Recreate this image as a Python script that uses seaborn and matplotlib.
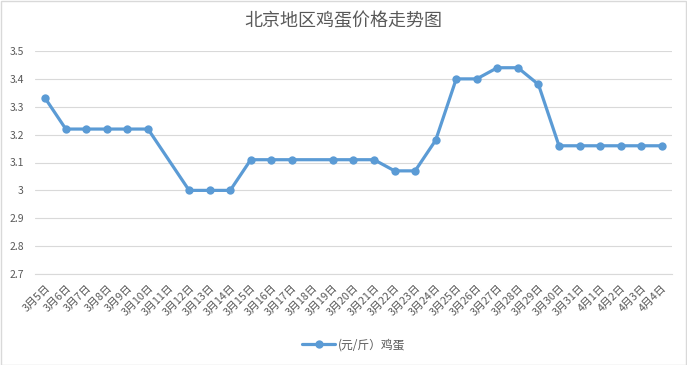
import matplotlib
matplotlib.use("Agg")
import matplotlib.pyplot as plt
import seaborn as sns
import numpy as np
import pandas as pd
from matplotlib.patches import Rectangle

# dates on the category axis
dates = ["3月5日", "3月6日", "3月7日", "3月8日", "3月9日", "3月10日", "3月11日",
         "3月12日", "3月13日", "3月14日", "3月15日", "3月16日", "3月17日", "3月18日",
         "3月19日", "3月20日", "3月21日", "3月22日", "3月23日", "3月24日", "3月25日",
         "3月26日", "3月27日", "3月28日", "3月29日", "3月30日", "3月31日",
         "4月1日", "4月2日", "4月3日", "4月4日"]
# egg price, yuan per jin (3/11 and 3/18 have no value)
prices = [3.33, 3.22, 3.22, 3.22, 3.22, 3.22, np.nan,
          3.00, 3.00, 3.00, 3.11, 3.11, 3.11, np.nan,
          3.11, 3.11, 3.11, 3.07, 3.07, 3.18, 3.40,
          3.40, 3.44, 3.44, 3.38, 3.16, 3.16,
          3.16, 3.16, 3.16, 3.16]
series_name = "(元/斤）鸡蛋"
title = "北京地区鸡蛋价格走势图"
yticks = [2.7, 2.8, 2.9, 3.0, 3.1, 3.2, 3.3, 3.4, 3.5]

sns.set_style("white")
plt.rcParams['font.family'] = ['Noto Sans CJK SC', 'DejaVu Sans']

df = pd.DataFrame({"pos": np.arange(len(dates)), "date": dates, "price": prices})
df["series"] = series_name

blue = "#5B9BD5"
grey_txt = "#595959"
grid_col = "#D9D9D9"

fig = plt.figure(figsize=(6.87, 3.65), dpi=100)
ax = fig.add_axes([35 / 687, 1 - 274 / 365, 637 / 687, 223 / 365])

# NaN rows are dropped so the line runs across the gaps
sns.lineplot(data=df, x="pos", y="price", hue="series", palette=[blue],
             marker="o", markersize=6, markeredgewidth=0, linewidth=2.3, ax=ax)

ax.set_xlim(-0.5, len(dates) - 0.5)
ax.set_ylim(2.7, 3.5)
ax.set_yticks(yticks)
ax.set_yticklabels([f"{v:g}" for v in yticks], fontsize=7.5, color=grey_txt)
ax.set_xticks(df["pos"])
ax.set_xticklabels(dates, rotation=45, ha="right", rotation_mode="anchor",
                   fontsize=7.8, color=grey_txt)
ax.set_xticks(np.arange(-0.5, len(dates)), minor=True)
ax.tick_params(axis="x", which="major", length=0, pad=6)
ax.tick_params(axis="x", which="minor", length=4, width=0.8, color=grid_col, direction="out")
ax.tick_params(axis="y", length=0, pad=8)
ax.set_xlabel("")
ax.set_ylabel("")
ax.grid(axis="y", color=grid_col, linewidth=0.8)
for s in ["left", "right", "top"]:
    ax.spines[s].set_visible(False)
ax.spines["bottom"].set_color(grid_col)
ax.spines["bottom"].set_linewidth(0.8)

ax.legend(loc="center", bbox_to_anchor=(0.5, -71 / 223), frameon=False,
          fontsize=8.5, labelcolor=grey_txt, handlelength=2.8, handletextpad=0.2)

fig.text(0.5, 1 - 21 / 365, title, ha="center", va="center", fontsize=13, color=grey_txt)
fig.patches.append(Rectangle((0.001, 0.001), 0.997, 0.997, transform=fig.transFigure,
                             fill=False, edgecolor=grid_col, linewidth=1))

fig.savefig("out.png", dpi=100)
